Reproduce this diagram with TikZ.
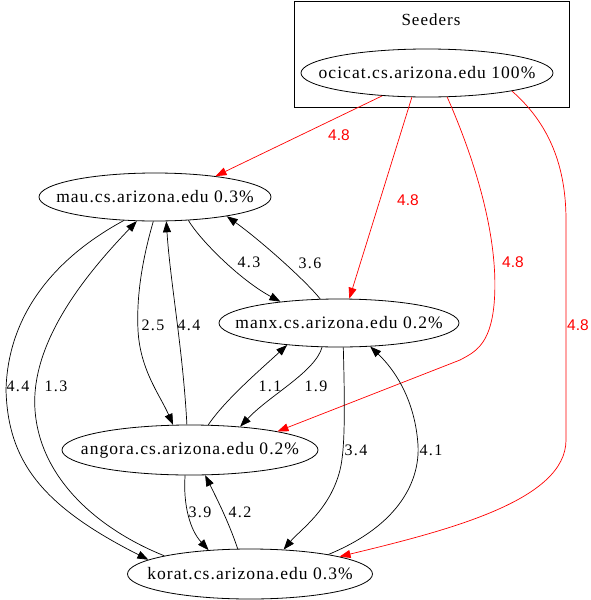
\documentclass[tikz,border=0pt]{standalone}
\usepackage{fontspec}
\setmainfont{Liberation Serif}
\newfontfamily\lblsans{Liberation Sans}
\usetikzlibrary{shapes.geometric,arrows.meta}
\newcommand{\hosttext}[1]{\makebox[0pt]{#1}}
\begin{document}
\begin{tikzpicture}[x=1pt,y=-1pt,
  host/.style={draw,ellipse,inner sep=0pt,line width=0.8pt,
    font=\fontsize{17.5}{20}\selectfont\addfontfeatures{LetterSpace=6}},
  edge/.style={draw,line width=0.7pt,-{Triangle[length=11pt,width=8pt]}},
  redge/.style={edge,red},
  lbl/.style={inner sep=0pt,font=\fontsize{16}{18}\selectfont\addfontfeatures{LetterSpace=8}},
  rlbl/.style={inner sep=0pt,red,font=\lblsans\fontsize{15.5}{18}\selectfont}]
\useasboundingbox (0,0) rectangle (590,600);
\fill[white] (0,0) rectangle (590,600);
% cluster
\draw[line width=0.8pt] (294.5,1) rectangle (569,107);
\node[inner sep=0pt,font=\fontsize{17}{19}\selectfont\addfontfeatures{LetterSpace=6}] (seeders) at (431,20) {Seeders};
% hosts
\node[host,minimum width=252pt,minimum height=48pt] (O) at (427,73) {\hosttext{ocicat.cs.arizona.edu 100\%}};
\node[host,minimum width=232pt,minimum height=48pt] (M) at (155,197) {\hosttext{mau.cs.arizona.edu 0.3\%}};
\node[host,minimum width=240pt,minimum height=48pt] (X) at (339,323) {\hosttext{manx.cs.arizona.edu 0.2\%}};
\node[host,minimum width=256pt,minimum height=50pt] (A) at (190,450) {\hosttext{angora.cs.arizona.edu 0.2\%}};
\node[host,minimum width=245pt,minimum height=50pt] (K) at (250,574) {\hosttext{korat.cs.arizona.edu 0.3\%}};
% red edges
\draw[redge] (O.-153) -- (M.19);
\node[rlbl] (r1) at (339,135) {4.8};
\draw[redge] (O.-122) -- (X.67);
\node[rlbl] (r2) at (408,200) {4.8};
\draw[redge] (O.-50) .. controls (475,160) and (500,240) .. (494,305)
   .. controls (490,345) and (475,352) .. (460,360) -- (A.12);
\node[rlbl] (r3) at (513,262) {4.8};
\draw[redge] (O.-12) .. controls (545,120) and (566,160) .. (566,220) -- (566,440)
   .. controls (566,500) and (450,530) .. (K.11);
\node[rlbl] (r4) at (578,325) {4.8};
% black edges
\draw[edge] (M.-35.6) .. controls (200,240) and (240,280) .. (X.160);
\node[lbl] (l43) at (249,262) {4.3};
\draw[edge] (X.128) .. controls (305,280) and (260,240) .. (M.-15);
\node[lbl] (l36) at (310,263) {3.6};
\draw[edge] (M.-94) .. controls (145,250) and (136,290) .. (138,330)
   .. controls (140,370) and (160,395) .. (A.124);
\node[lbl] (l25) at (153,325) {2.5};
\draw[edge] (A.97) .. controls (183,350) and (170,280) .. (M.-65);
\node[lbl] (l44a) at (189,325) {4.4};
\draw[edge] (M.-143.5) .. controls (60,255) and (8,310) .. (6,390)
   .. controls (8,460) and (40,505) .. (K.172);
\node[lbl] (l44b) at (18,386) {4.4};
\draw[edge] (K.168) .. controls (100,530) and (40,480) .. (35,410)
   .. controls (30,340) and (90,270) .. (M.-127);
\node[lbl] (l13) at (56,386) {1.3};
\draw[edge] (X.-125.5) .. controls (315,372) and (270,395) .. (A.25);
\node[lbl] (l19) at (316,386) {1.9};
\draw[edge] (A.54) .. controls (225,400) and (260,370) .. (X.-157);
\node[lbl] (l11) at (270,386) {1.1};
\draw[edge] (X.-80) .. controls (345,410) and (345,450) .. (340,470)
   .. controls (330,510) and (300,530) .. (K.36);
\node[lbl] (l34) at (356,450) {3.4};
\draw[edge] (K.14) .. controls (400,525) and (420,480) .. (418,445)
   .. controls (415,400) and (395,370) .. (X.-37);
\node[lbl] (l41) at (431,450) {4.1};
\draw[edge] (A.-101) .. controls (183,505) and (190,530) .. (K.150);
\node[lbl] (l39) at (200,512) {3.9};
\draw[edge] (K.116) .. controls (228,520) and (215,495) .. (A.-59);
\node[lbl] (l42) at (240,512) {4.2};
\end{tikzpicture}
\end{document}
